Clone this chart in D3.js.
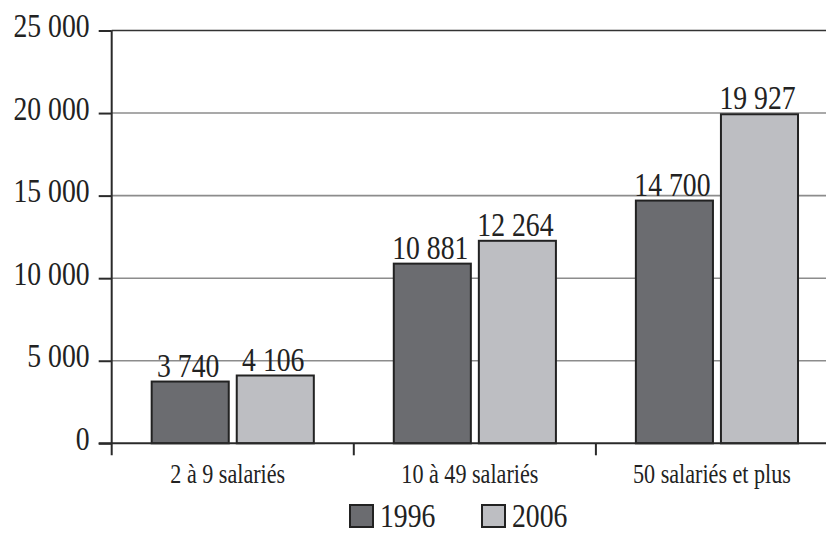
<!DOCTYPE html>
<html>
<head>
<meta charset="utf-8">
<script src="https://cdn.jsdelivr.net/npm/d3@7"></script>
<style>
  html, body { margin: 0; padding: 0; background: #fff; }
  svg { display: block; }
  text { font-family: "Liberation Serif", "Times New Roman", serif; fill: #222; }
</style>
</head>
<body>
<svg id="chart" width="826" height="533"></svg>
<script>
// Établissements par taille, 1996 et 2006
const categories = ["2 à 9 salariés", "10 à 49 salariés", "50 salariés et plus"];
const years = ["1996", "2006"];
const values1996 = [3740, 10881, 14700];
const values2006 = [4106, 12264, 19927];
const yTicks = [0, 5000, 10000, 15000, 20000, 25000];
const colors = ["#6b6c70", "#bdbec2"];

const series = [values1996, values2006];
const W = 826, H = 533;
const margin = { left: 111.7, top: 30.5, bottom: 443.3 };
const condense = 0.84; // narrow book face
const bigFont = "33px";

const fr = d3.formatLocale({ decimal: ",", thousands: " ", grouping: [3], currency: ["", " €"] });
const fmt = fr.format(",d");

const svg = d3.select("#chart");

const y = d3.scaleLinear().domain([0, 25000]).range([margin.bottom, margin.top]);
const x = d3.scaleBand().domain(categories).range([margin.left, 838]).padding(0);
const xSub = d3.scaleBand().domain(years).range([0, x.bandwidth()])
  .paddingInner(0.094).paddingOuter(0.47);

// horizontal grid
svg.append("g").selectAll("line").data(yTicks.filter(d => d > 0)).join("line")
  .attr("x1", margin.left).attr("x2", W)
  .attr("y1", d => y(d)).attr("y2", d => y(d))
  .attr("stroke", d => d === 25000 ? "#333" : "#8c8c8c")
  .attr("stroke-width", 1.6);

// y axis with ticks and labels
const yAxis = svg.append("g")
  .attr("transform", `translate(${margin.left},0)`)
  .call(d3.axisLeft(y).tickValues(yTicks).tickSize(13).tickFormat(fmt));
yAxis.select(".domain").remove();
yAxis.selectAll(".tick line").attr("stroke", "#2a2a2a").attr("stroke-width", 2);
yAxis.selectAll(".tick text")
  .attr("x", 0).attr("dy", null)
  .attr("transform", `translate(-22,6) scale(${condense},1)`)
  .style("font-size", bigFont).attr("fill", "#222");

// bars
const groups = svg.append("g").selectAll("g").data(categories).join("g")
  .attr("transform", d => `translate(${x(d)},0)`);

groups.selectAll("rect")
  .data((c, i) => years.map((yr, k) => ({ yr, k, v: series[k][i] })))
  .join("rect")
  .attr("x", d => xSub(d.yr))
  .attr("width", xSub.bandwidth())
  .attr("y", d => y(d.v))
  .attr("height", d => y(0) - y(d.v))
  .attr("fill", d => colors[d.k])
  .attr("stroke", "#222")
  .attr("stroke-width", 2);

// value labels
groups.selectAll("text.val")
  .data((c, i) => years.map((yr, k) => ({ yr, k, v: series[k][i] })))
  .join("text")
  .attr("class", "val")
  .attr("text-anchor", "middle")
  .attr("transform", d => `translate(${xSub(d.yr) + xSub.bandwidth() / 2 - 2},${y(d.v) - 5}) scale(${condense},1)`)
  .style("font-size", bigFont)
  .text(d => fmt(d.v));

// axis lines
svg.append("line")
  .attr("x1", margin.left).attr("x2", margin.left)
  .attr("y1", y(25000)).attr("y2", y(0) + 12)
  .attr("stroke", "#2a2a2a").attr("stroke-width", 2);
svg.append("line")
  .attr("x1", margin.left - 13).attr("x2", W)
  .attr("y1", y(0)).attr("y2", y(0))
  .attr("stroke", "#2a2a2a").attr("stroke-width", 2);

// category separators
svg.append("g").selectAll("line").data(categories.slice(0, -1)).join("line")
  .attr("x1", d => x(d) + x.bandwidth()).attr("x2", d => x(d) + x.bandwidth())
  .attr("y1", y(0)).attr("y2", y(0) + 12)
  .attr("stroke", "#2a2a2a").attr("stroke-width", 2);

// category labels
const xAxis = svg.append("g")
  .attr("transform", `translate(0,${y(0)})`)
  .call(d3.axisBottom(x).tickSize(0));
xAxis.select(".domain").remove();
xAxis.selectAll(".tick text")
  .attr("y", 0).attr("dy", null)
  .attr("transform", `translate(-5,40) scale(0.82,1)`)
  .style("font-size", "27px").attr("fill", "#222");

// legend
const legend = svg.append("g").selectAll("g").data(years).join("g")
  .attr("transform", (d, i) => `translate(${350 + i * 132},505)`);
legend.append("rect")
  .attr("width", 23).attr("height", 22)
  .attr("fill", (d, i) => colors[i])
  .attr("stroke", "#222").attr("stroke-width", 2);
legend.append("text")
  .attr("transform", `translate(30,21.5) scale(${condense},1)`)
  .style("font-size", bigFont)
  .text(d => d);
</script>
</body>
</html>
